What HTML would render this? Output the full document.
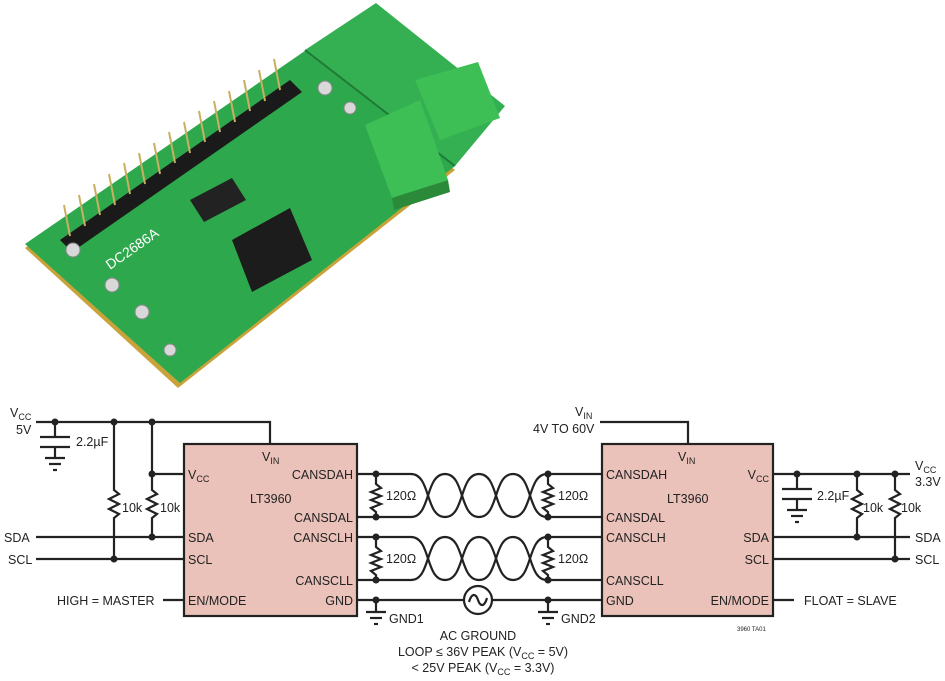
<!DOCTYPE html>
<html><head><meta charset="utf-8"><style>
body{margin:0;background:#fff}
svg{display:block}
text{font-family:"Liberation Sans",sans-serif;font-size:12.5px;fill:#222}
</style></head><body>
<svg width="945" height="681" viewBox="0 0 945 681">
<!-- PCB photo approximation -->
<polygon points="25,248 312,50 455,170 178,388" fill="#c9a23a"/>
<polygon points="25,244 312,46 455,166 180,383" fill="#2ea84c"/>
<polygon points="305,50 376,3 505,106 455,166" fill="#34b052"/>
<line x1="305" y1="50" x2="455" y2="166" stroke="#1f7a35" stroke-width="2"/>
<polygon points="60,240 290,80 302,92 72,252" fill="#1a1a1a"/>
<g stroke="#c8b060" stroke-width="2">
<line x1="70" y1="236" x2="64" y2="205"/><line x1="85" y1="226" x2="79" y2="195"/><line x1="100" y1="215" x2="94" y2="184"/><line x1="115" y1="205" x2="109" y2="174"/><line x1="130" y1="194" x2="124" y2="163"/><line x1="145" y1="184" x2="139" y2="153"/><line x1="160" y1="174" x2="154" y2="143"/><line x1="175" y1="163" x2="169" y2="132"/><line x1="190" y1="153" x2="184" y2="122"/><line x1="205" y1="142" x2="199" y2="111"/><line x1="220" y1="132" x2="214" y2="101"/><line x1="235" y1="122" x2="229" y2="91"/><line x1="250" y1="111" x2="244" y2="80"/><line x1="265" y1="101" x2="259" y2="70"/><line x1="280" y1="90" x2="274" y2="59"/>
</g>
<polygon points="232,240 290,208 312,260 252,292" fill="#1c1c1c"/>
<polygon points="190,200 232,178 246,200 204,222" fill="#222"/>
<polygon points="365,125 420,100 448,180 392,198" fill="#3dbf55"/>
<polygon points="415,80 478,62 500,118 440,140" fill="#3dbf55"/>
<polygon points="392,198 448,180 450,192 394,210" fill="#2a8a3a"/>
<g fill="#d8d8d8" stroke="#888">
<circle cx="73" cy="250" r="7"/><circle cx="112" cy="285" r="7"/><circle cx="142" cy="312" r="7"/><circle cx="170" cy="350" r="6"/><circle cx="325" cy="88" r="7"/><circle cx="350" cy="108" r="6"/>
</g>
<text x="110" y="270" style="fill:#fff;font-size:14px" transform="rotate(-35 110 270)">DC2686A</text>
<!-- Schematic -->
<g stroke="#222" stroke-width="2.2" fill="none">
<rect x="184" y="444" width="173" height="172" fill="#ebc2ba"/>
<rect x="602" y="444" width="171" height="172" fill="#ebc2ba"/>
<polyline points="36,422 270,422 270,444"/>
<line x1="55" y1="422" x2="55" y2="437"/>
<line x1="40" y1="437" x2="70" y2="437"/><line x1="40" y1="447" x2="70" y2="447"/>
<line x1="55" y1="447" x2="55" y2="458"/><line x1="45" y1="458" x2="65" y2="458"/><line x1="49" y1="464" x2="61" y2="464"/><line x1="53" y1="470" x2="57" y2="470"/>
<polyline points="114,422 114,490 119,494 109,499 119,504 109,509 119,514 114,518 114,559"/>
<polyline points="152,422 152,490 157,494 147,499 157,504 147,509 157,514 152,518 152,537"/>
<line x1="152" y1="474" x2="184" y2="474"/>
<line x1="36" y1="537" x2="184" y2="537"/>
<line x1="36" y1="559" x2="184" y2="559"/>
<line x1="163" y1="600" x2="184" y2="600"/>
<line x1="357" y1="474" x2="405" y2="474"/><line x1="357" y1="517" x2="405" y2="517"/>
<line x1="357" y1="537" x2="405" y2="537"/><line x1="357" y1="580" x2="405" y2="580"/>
<polyline points="376,474 376,484 381,488 371,492 381,496 371,500 381,504 371,508 376,512 376,517"/>
<polyline points="376,537 376,547 381,551 371,555 381,559 371,563 381,567 371,571 376,575 376,580"/>
<line x1="357" y1="600" x2="464" y2="600"/><line x1="492" y1="600" x2="602" y2="600"/>
<line x1="376" y1="600" x2="376" y2="612"/><line x1="366" y1="612" x2="386" y2="612"/><line x1="370" y1="618" x2="382" y2="618"/><line x1="374" y1="624" x2="378" y2="624"/>
<line x1="548" y1="600" x2="548" y2="612"/><line x1="538" y1="612" x2="558" y2="612"/><line x1="542" y1="618" x2="554" y2="618"/><line x1="546" y1="624" x2="550" y2="624"/>
<circle cx="478" cy="600" r="14"/>
<path d="M469,602 C472,592 476,594 478,600 C480,606 484,608 487,598"/>
<path d="M405,474 L411,474 C431,474 425,517 445,517 C465,517 459,474 479,474 C499,474 493,517 513,517 C533,517 527,474 547,474"/>
<path d="M405,517 L411,517 C431,517 425,474 445,474 C465,474 459,517 479,517 C499,517 493,474 513,474 C533,474 527,517 547,517"/>
<path d="M405,537 L411,537 C431,537 425,580 445,580 C465,580 459,537 479,537 C499,537 493,580 513,580 C533,580 527,537 547,537"/>
<path d="M405,580 L411,580 C431,580 425,537 445,537 C465,537 459,580 479,580 C499,580 493,537 513,537 C533,537 527,580 547,580"/>
<line x1="547" y1="474" x2="602" y2="474"/><line x1="547" y1="517" x2="602" y2="517"/>
<line x1="547" y1="537" x2="602" y2="537"/><line x1="547" y1="580" x2="602" y2="580"/>
<polyline points="548,474 548,484 553,488 543,492 553,496 543,500 553,504 543,508 548,512 548,517"/>
<polyline points="548,537 548,547 553,551 543,555 553,559 543,563 553,567 543,571 548,575 548,580"/>
<polyline points="600,422 688,422 688,444"/>
<line x1="773" y1="474" x2="910" y2="474"/>
<line x1="797" y1="474" x2="797" y2="489"/>
<line x1="782" y1="489" x2="812" y2="489"/><line x1="782" y1="499" x2="812" y2="499"/>
<line x1="797" y1="499" x2="797" y2="510"/><line x1="787" y1="510" x2="807" y2="510"/><line x1="791" y1="516" x2="803" y2="516"/><line x1="795" y1="522" x2="799" y2="522"/>
<polyline points="857,474 857,490 862,494 852,499 862,504 852,509 862,514 857,518 857,537"/>
<polyline points="895,474 895,490 900,494 890,499 900,504 890,509 900,514 895,518 895,559"/>
<line x1="773" y1="537" x2="910" y2="537"/>
<line x1="773" y1="559" x2="910" y2="559"/>
<line x1="773" y1="600" x2="794" y2="600"/>
</g>
<g fill="#222">
<circle cx="55" cy="422" r="3.5"/><circle cx="114" cy="422" r="3.5"/><circle cx="152" cy="422" r="3.5"/><circle cx="152" cy="474" r="3.5"/><circle cx="152" cy="537" r="3.5"/><circle cx="114" cy="559" r="3.5"/>
<circle cx="376" cy="474" r="3.5"/><circle cx="376" cy="517" r="3.5"/><circle cx="376" cy="537" r="3.5"/><circle cx="376" cy="580" r="3.5"/><circle cx="376" cy="600" r="3.5"/>
<circle cx="548" cy="474" r="3.5"/><circle cx="548" cy="517" r="3.5"/><circle cx="548" cy="537" r="3.5"/><circle cx="548" cy="580" r="3.5"/><circle cx="548" cy="600" r="3.5"/>
<circle cx="797" cy="474" r="3.5"/><circle cx="857" cy="474" r="3.5"/><circle cx="895" cy="474" r="3.5"/><circle cx="857" cy="537" r="3.5"/><circle cx="895" cy="559" r="3.5"/>
</g>
<text x="10" y="417">V<tspan font-size="9" dy="3">CC</tspan></text>
<text x="16" y="434">5V</text>
<text x="76" y="446">2.2µF</text>
<text x="122" y="512">10k</text>
<text x="160" y="512">10k</text>
<text x="4" y="542">SDA</text>
<text x="8" y="564">SCL</text>
<text x="57" y="605">HIGH = MASTER</text>
<text x="188" y="479">V<tspan font-size="9" dy="3">CC</tspan></text>
<text x="188" y="542">SDA</text>
<text x="188" y="564">SCL</text>
<text x="188" y="605">EN/MODE</text>
<text x="262" y="461">V<tspan font-size="9" dy="3">IN</tspan></text>
<text x="250" y="503">LT3960</text>
<text x="353" y="479" text-anchor="end">CANSDAH</text>
<text x="353" y="522" text-anchor="end">CANSDAL</text>
<text x="353" y="542" text-anchor="end">CANSCLH</text>
<text x="353" y="585" text-anchor="end">CANSCLL</text>
<text x="353" y="605" text-anchor="end">GND</text>
<text x="386" y="500">120Ω</text>
<text x="386" y="563">120Ω</text>
<text x="558" y="500">120Ω</text>
<text x="558" y="563">120Ω</text>
<text x="389" y="623">GND1</text>
<text x="561" y="623">GND2</text>
<text x="478" y="640" text-anchor="middle">AC GROUND</text>
<text x="483" y="656" text-anchor="middle">LOOP ≤ 36V PEAK (V<tspan font-size="9" dy="3">CC</tspan><tspan dy="-3"> = 5V)</tspan></text>
<text x="483" y="672" text-anchor="middle">&lt; 25V PEAK (V<tspan font-size="9" dy="3">CC</tspan><tspan dy="-3"> = 3.3V)</tspan></text>
<text x="575" y="416">V<tspan font-size="9" dy="3">IN</tspan></text>
<text x="533" y="433">4V TO 60V</text>
<text x="606" y="479">CANSDAH</text>
<text x="606" y="522">CANSDAL</text>
<text x="606" y="542">CANSCLH</text>
<text x="606" y="585">CANSCLL</text>
<text x="606" y="605">GND</text>
<text x="678" y="461">V<tspan font-size="9" dy="3">IN</tspan></text>
<text x="667" y="503">LT3960</text>
<text x="769" y="479" text-anchor="end">V<tspan font-size="9" dy="3">CC</tspan></text>
<text x="769" y="542" text-anchor="end">SDA</text>
<text x="769" y="564" text-anchor="end">SCL</text>
<text x="769" y="605" text-anchor="end">EN/MODE</text>
<text x="804" y="605">FLOAT = SLAVE</text>
<text x="817" y="500">2.2µF</text>
<text x="863" y="512">10k</text>
<text x="901" y="512">10k</text>
<text x="915" y="470">V<tspan font-size="9" dy="3">CC</tspan></text>
<text x="915" y="486">3.3V</text>
<text x="915" y="542">SDA</text>
<text x="915" y="564">SCL</text>
<text x="737" y="631" style="font-size:6px">3960 TA01</text>
</svg>
</body></html>
